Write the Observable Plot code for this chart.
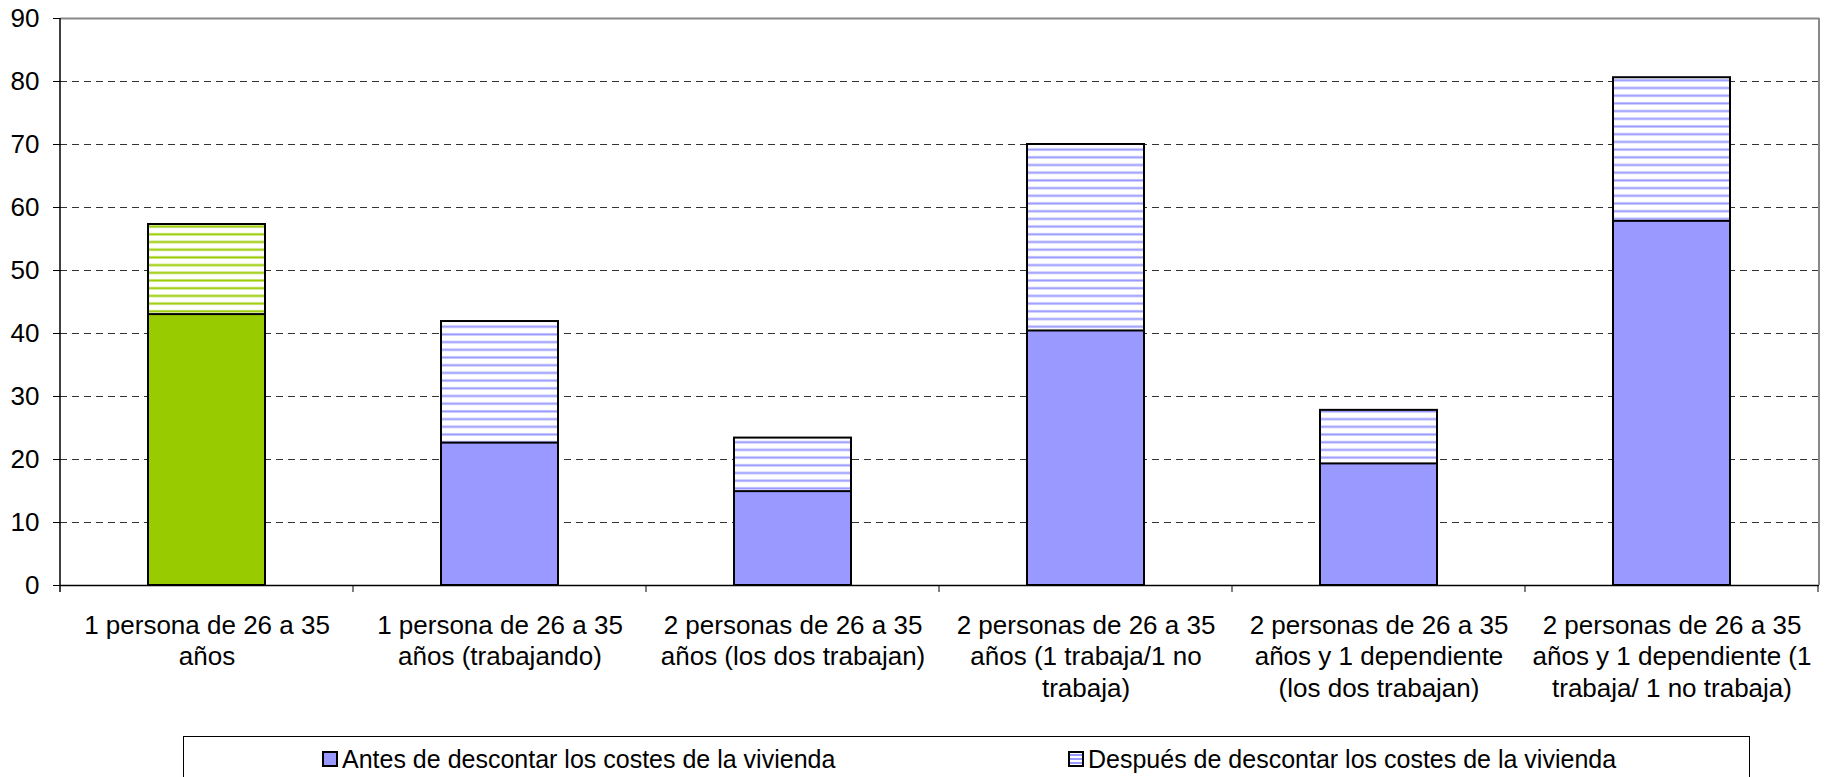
<!DOCTYPE html>
<html><head><meta charset="utf-8">
<script src="https://cdn.jsdelivr.net/npm/d3@7"></script>
<script src="https://cdn.jsdelivr.net/npm/@observablehq/plot@0.6"></script>
<style>
body{margin:0;background:#fff;font-family:"Liberation Sans",Arial,sans-serif;}
#wrap{position:relative;width:1830px;height:777px;overflow:hidden;}
#legend{position:absolute;left:183px;top:736px;width:1567px;height:70px;border:1px solid #000;box-sizing:border-box;font-size:25px;color:#000;}
.item{position:absolute;top:8px;display:flex;align-items:center;white-space:nowrap;line-height:28px;}
.sw{width:12px;height:12px;border:2px solid #000;margin-right:4px;box-sizing:content-box;}
</style></head><body>
<div id="wrap"><div id="chart"></div><div id="legend"></div></div>
<script>
const categories = [
  "1 persona de 26 a 35\naños",
  "1 persona de 26 a 35\naños (trabajando)",
  "2 personas de 26 a 35\naños (los dos trabajan)",
  "2 personas de 26 a 35\naños (1 trabaja/1 no\ntrabaja)",
  "2 personas de 26 a 35\naños y 1 dependiente\n(los dos trabajan)",
  "2 personas de 26 a 35\naños y 1 dependiente (1\ntrabaja/ 1 no trabaja)"
];
const antes = [43.0, 22.6, 14.9, 40.4, 19.3, 57.8];
const despues = [57.3, 41.9, 23.4, 70.0, 27.8, 80.6];
const yTicks = [0, 10, 20, 30, 40, 50, 60, 70, 80, 90];
const seriesNames = ["Antes de descontar los costes de la vivienda", "Después de descontar los costes de la vivienda"];

const GREEN = "#99cc00", BLUE = "#9999ff";
const rows = categories.map((c, i) => ({cat: c, antes: antes[i], despues: despues[i], first: i === 0}));
const rowsG = rows.filter(d => d.first), rowsB = rows.filter(d => !d.first);

const chart = Plot.plot({
  width: 1830, height: 720,
  marginLeft: 60, marginRight: 11, marginTop: 18, marginBottom: 135,
  style: {fontFamily: "'Liberation Sans', Arial, sans-serif", fontSize: "26px", color: "#000", background: "#fff"},
  x: {domain: categories, paddingInner: 0.6, paddingOuter: 0.3, axis: null},
  y: {domain: [0, 90], axis: null},
  marks: [
    Plot.ruleY(yTicks.filter(t => t > 0 && t < 90), {stroke: "#333", strokeWidth: 1, strokeDasharray: "7,5"}),
    Plot.ruleY([90], {stroke: "#888", strokeWidth: 2}),
    Plot.barY(rowsG, {x: "cat", y: "despues", fill: "url(#hatchG)", stroke: "#000", strokeWidth: 2}),
    Plot.barY(rowsB, {x: "cat", y: "despues", fill: "url(#hatchB)", stroke: "#000", strokeWidth: 2}),
    Plot.barY(rowsG, {x: "cat", y: "antes", fill: GREEN, stroke: "#000", strokeWidth: 2}),
    Plot.barY(rowsB, {x: "cat", y: "antes", fill: BLUE, stroke: "#000", strokeWidth: 2}),
    Plot.ruleY([0], {stroke: "#000", strokeWidth: 1.5}),
    Plot.axisY(yTicks, {tickSize: 7, tickPadding: 14, fontSize: 26, label: null, stroke: "#000"}),
    Plot.text(categories, {x: d => d, text: d => d, frameAnchor: "bottom", lineAnchor: "top", dy: 26, fontSize: 26, lineHeight: 1.21, fill: "#000"})
  ]
});
document.getElementById("chart").appendChild(chart);

// patterns and frame lines derived from the chart's own scales
const svg = d3.select(chart);
const defs = svg.insert("defs", ":first-child");
function hatch(id, color) {
  const p = defs.append("pattern").attr("id", id).attr("patternUnits", "userSpaceOnUse").attr("width", 10).attr("height", 7.7);
  p.append("rect").attr("width", 10).attr("height", 7.7).attr("fill", "#fff");
  p.append("rect").attr("y", 1.8).attr("width", 10).attr("height", 3).attr("fill", color).attr("opacity", 0.45);
  p.append("rect").attr("y", 2.6).attr("width", 10).attr("height", 1.4).attr("fill", color);
}
hatch("hatchG", GREEN);
hatch("hatchB", BLUE);

const sx = chart.scale("x"), sy = chart.scale("y");
const y0 = sy.apply(0), yTop = sy.apply(90);
const [xl, xr] = sx.range;
const g = svg.append("g");
g.append("line").attr("x1", xl).attr("x2", xl).attr("y1", yTop).attr("y2", y0 + 7).attr("stroke", "#000").attr("stroke-width", 1.5);
g.append("line").attr("x1", xr).attr("x2", xr).attr("y1", yTop).attr("y2", y0).attr("stroke", "#888").attr("stroke-width", 2);
const start = sx.apply(categories[0]) - (sx.step - sx.bandwidth) / 2;
for (let i = 1; i <= categories.length; i++) {
  const x = start + i * sx.step;
  g.append("line").attr("x1", x).attr("x2", x).attr("y1", y0).attr("y2", y0 + 7).attr("stroke", "#000").attr("stroke-width", 1);
}

// legend
const legend = d3.select("#legend");
const lx = [138, 884];
seriesNames.forEach((name, i) => {
  const it = legend.append("div").attr("class", "item").style("left", lx[i] + "px");
  it.append("div").attr("class", "sw").style("background", i === 0 ? BLUE : "url('data:image/svg+xml;utf8," + encodeURIComponent('<svg xmlns="http://www.w3.org/2000/svg" width="12" height="4"><rect width="12" height="4" fill="#fff"/><rect y="1" width="12" height="2" fill="#9999ff"/></svg>') + "')");
  it.append("span").text(name);
});
</script>
</body></html>
